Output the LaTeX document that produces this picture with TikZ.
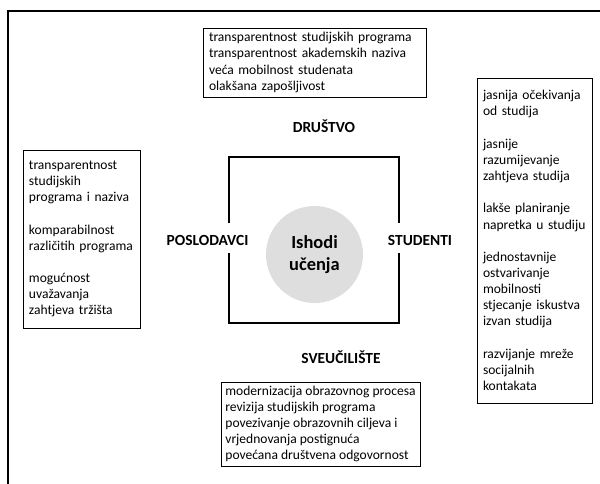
\documentclass[tikz,border=0pt]{standalone}
\usepackage{fontspec}
\setmainfont{Carlito}
\tikzset{
  listbox/.style={draw, line width=0.8bp, align=left, inner xsep=6bp, inner ysep=0pt,
    font=\fontsize{13.6}{16.2}\selectfont},
  sidelabel/.style={font=\bfseries\fontsize{15.5}{18}\selectfont},
}
\begin{document}
\begin{tikzpicture}[x=1bp, y=-1bp]
            \useasboundingbox (0,0) rectangle (600,484);
            \draw [line width=2bp] (8,484) |- (600,11);
            
            \node (drustvobox) [listbox, text width=211bp, minimum height=69bp] at (314.5,62.5)
              {transparentnost studijskih programa\\transparentnost akademskih naziva\\veća mobilnost studenata\\olakšana zapošljivost};
            \node (studentibox) [listbox, text width=103bp, minimum height=325bp] at (534.5,240.5)
              {jasnija očekivanja\\od studija\\[16.2bp]jasnije\\razumijevanje\\zahtjeva studija\\[16.2bp]lakše planiranje\\napretka u studiju\\[16.2bp]jednostavnije\\ostvarivanje\\mobilnosti\\stjecanje iskustva\\izvan studija\\[16.2bp]razvijanje mreže\\socijalnih\\kontakata};
            \node (poslodavcibox) [listbox, text width=105bp, minimum height=178bp] at (81.5,239)
              {transparentnost\\studijskih\\programa i naziva\\[16.2bp]komparabilnost\\različitih programa\\[16.2bp]mogućnost\\uvažavanja\\zahtjeva tržišta};
            \node (sveucilistebox) [listbox, inner xsep=2bp, minimum width=199bp, minimum height=84bp] at (320.5,424)
              {modernizacija obrazovnog procesa\\revizija studijskih programa\\povezivanje obrazovnih ciljeva i\\vrjednovanja postignuća\\povećana društvena odgovornost};
            
            \draw [line width=2.8bp] (229,223) |- (399,157) -- (399,223);
            \draw [line width=2.8bp] (229,253) |- (399,323) -- (399,253);
            
            \node (ishodi) [circle, fill=black!13, minimum size=97bp, align=center,
              font=\bfseries\fontsize{18.5}{22}\selectfont] at (314.5,254.5) {Ishodi\\učenja};
            
            \node (drustvo) [sidelabel] at (324,126) {DRUŠTVO};
            \node (poslodavci) [sidelabel] at (207.5,240) {POSLODAVCI};
            \node (studenti) [sidelabel] at (420,240) {STUDENTI};
            \node (sveuciliste) [sidelabel] at (341,357) {SVEUČILIŠTE};
\end{tikzpicture}
\end{document}
